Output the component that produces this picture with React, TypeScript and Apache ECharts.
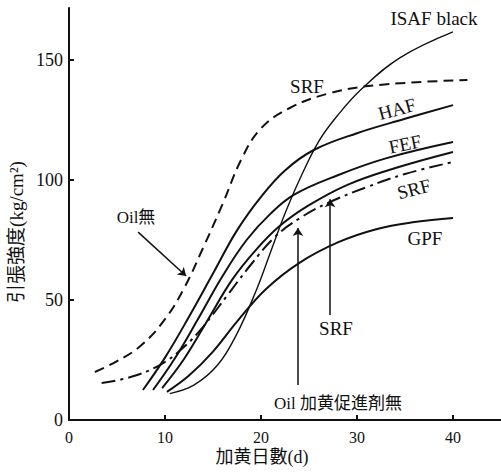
import { useEffect, useRef } from "react";
import * as echarts from "echarts";

const xTicks = [0, 10, 20, 30, 40];
const yTicks = [0, 50, 100, 150];

const isafBlack = [[10.5, 11], [13, 14.5], [15.5, 23], [17.5, 36], [19.5, 54], [21, 70], [22.5, 86], [24, 100], [26, 116], [28, 127], [30.5, 138], [34.5, 151], [40, 161.7]];
const srfOilFree = [[2.7, 20], [5, 24.5], [7.5, 31], [10, 42], [12, 55], [14, 72], [16, 90], [18, 109], [20, 121.5], [23, 130], [27, 136], [32, 139.5], [41.5, 141.7]];
const haf = [[7.7, 12.5], [10, 26], [12.5, 43], [15, 61], [17.5, 79], [20, 93], [22.5, 104], [25.5, 112.5], [30, 119.5], [35, 125.5], [40, 131.2]];
const fef = [[8.75, 12.5], [11, 25.5], [13.5, 42.5], [16, 60], [18.5, 75], [21, 86], [23.5, 94], [28, 102], [33, 109], [40, 115.8]];
const srf = [[9.7, 13.3], [12, 25.5], [14.5, 42], [17, 58.5], [19.5, 71], [22, 81], [25, 89.5], [29, 98], [34, 105], [40, 111.7]];
const srfNoAccel = [[3.4, 15.4], [6.5, 18], [9.5, 23], [12, 30.5], [14, 39], [16.5, 52], [19, 65], [21.5, 76.5], [24, 84], [27, 90.5], [31, 97], [35, 102.5], [40, 107.5]];
const gpf = [[10.2, 11.7], [12.5, 18.5], [15, 28.5], [17.5, 41], [20.5, 54.5], [24, 65.5], [28, 74], [32, 79.5], [36, 82.5], [40, 84.2]];

const oilFreeArrow = [[7.2, 78.3], [12.2, 60]];
const srfArrow = [[27.2, 43.75], [27.2, 92]];
const noAccelArrow = [[23.85, 14.6], [23.85, 80]];

const SERIF = "'Liberation Serif', 'DejaVu Serif', 'Noto Sans CJK JP', serif";
const INK = "#111";

function curve(name: string, data: number[][], type: any, width = 2) {
  return {
    name,
    type: "line",
    data,
    smooth: 0.4,
    showSymbol: false,
    symbol: "none",
    lineStyle: { color: INK, width, type },
    silent: true,
  };
}

function arrow(name: string, coords: number[][]) {
  return {
    name,
    type: "lines",
    coordinateSystem: "cartesian2d",
    data: [{ coords }],
    symbol: ["none", "arrow"],
    symbolSize: 8,
    lineStyle: { color: INK, width: 1.5, opacity: 1, curveness: 0 },
    itemStyle: { color: INK },
    silent: true,
  };
}

function txt(text: string, x: number, y: number, size: number, rotation = 0) {
  return {
    type: "text",
    x,
    y,
    rotation,
    style: {
      text,
      fill: INK,
      font: `${size}px ${SERIF}`,
      textAlign: "center",
      textVerticalAlign: "middle",
    },
    silent: true,
  };
}

export default function App() {
  const ref = useRef<HTMLDivElement>(null);
  useEffect(() => {
    if (!ref.current) return;
    const chart = echarts.init(ref.current, null, { renderer: "svg" });
    chart.setOption({
      animation: false,
      backgroundColor: "#fff",
      grid: { left: 69, right: 0, top: 8, bottom: 52 },
      xAxis: {
        type: "value",
        min: 0,
        max: 45,
        interval: 10,
        axisLine: { show: true, onZero: false, lineStyle: { color: INK, width: 2 } },
        axisTick: { show: true, inside: true, length: 5, customValues: xTicks.slice(1), lineStyle: { color: INK, width: 2 } },
        axisLabel: { customValues: xTicks, color: INK, fontFamily: SERIF, fontSize: 16, margin: 9 },
        splitLine: { show: false },
      },
      yAxis: {
        type: "value",
        min: 0,
        max: 412 / 2.4,
        interval: 50,
        axisLine: { show: true, onZero: false, lineStyle: { color: INK, width: 2 } },
        axisTick: { show: true, inside: true, length: 5, customValues: yTicks.slice(1), lineStyle: { color: INK, width: 2 } },
        axisLabel: { customValues: yTicks, color: INK, fontFamily: SERIF, fontSize: 18, margin: 6 },
        splitLine: { show: false },
      },
      series: [
        curve("ISAF black", isafBlack, "solid", 1.4),
        curve("SRF (Oil無)", srfOilFree, [10, 6]),
        curve("HAF", haf, "solid"),
        curve("FEF", fef, "solid"),
        curve("SRF", srf, "solid"),
        curve("SRF (Oil 加黄促進剤無)", srfNoAccel, [14, 5, 3, 5]),
        curve("GPF", gpf, "solid"),
        arrow("oilFreeArrow", oilFreeArrow),
        arrow("srfArrow", srfArrow),
        arrow("noAccelArrow", noAccelArrow),
      ],
      graphic: [
        txt("ISAF black", 434, 18, 19),
        txt("SRF", 307, 86, 19),
        txt("HAF", 397, 109, 19, 0.26),
        txt("FEF", 405, 144, 19, 0.2),
        txt("SRF", 414, 189, 19, 0.26),
        txt("GPF", 425, 238, 19),
        txt("Oil無", 136, 217, 17),
        txt("SRF", 336, 328, 19),
        txt("Oil 加黄促進剤無", 338, 403, 17),
        txt("加黄日數(d)", 262, 457, 18),
        txt("引張強度(kg/cm²)", 16, 232, 19, Math.PI / 2),
      ],
    });
    return () => chart.dispose();
  }, []);
  return (
    <div
      ref={ref}
      style={{ position: "absolute", left: 0, top: 0, width: 501, height: 472, background: "#fff" }}
    />
  );
}
